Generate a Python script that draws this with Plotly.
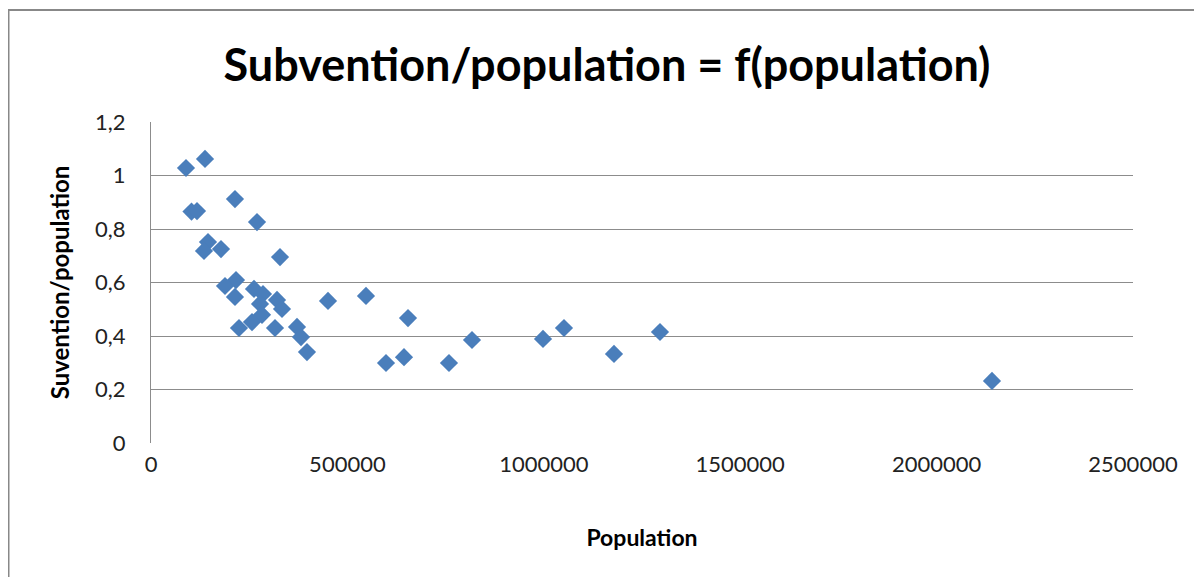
import plotly.graph_objects as go

population = [89100, 137500, 103100, 117100, 213800, 269900, 145100, 134900, 178200, 328400,
              216400, 188400, 213800, 262200, 285100, 277500, 320800, 333500, 282600, 257100,
              224000, 315700, 371700, 381900, 397100, 450600, 547300, 654300, 598300, 644100,
              758600, 817200, 998000, 1051400, 1178700, 1295800, 2141000]
subv_per_pop = [1.028, 1.062, 0.865, 0.867, 0.912, 0.826, 0.751, 0.718, 0.725, 0.695,
                0.609, 0.587, 0.546, 0.576, 0.557, 0.520, 0.535, 0.501, 0.479, 0.452,
                0.430, 0.430, 0.434, 0.396, 0.340, 0.531, 0.550, 0.467, 0.299, 0.321,
                0.299, 0.385, 0.389, 0.430, 0.333, 0.415, 0.232]

x_ticks = [0, 500000, 1000000, 1500000, 2000000, 2500000]
y_ticks = [0, 0.2, 0.4, 0.6, 0.8, 1.0, 1.2]

fig = go.Figure()
fig.add_trace(go.Scatter(
    x=population, y=subv_per_pop, mode="markers",
    marker=dict(symbol="diamond", size=14, color="#4A7EBB",
                line=dict(width=0)),
    showlegend=False,
))

# page body adds an 8px offset
OFF = 8
W, H = 1202, 577
L, T = 151 - OFF, 122 - OFF
R = W - (1133 - OFF)
B = H - (443 - OFF)
pw, ph = W - L - R, H - T - B

def px(x):
    return (x - OFF - L) / pw

def py(y):
    return (H - B - (y - OFF)) / ph

fig.update_layout(
    width=W, height=H,
    margin=dict(l=L, r=R, t=T, b=B),
    paper_bgcolor="white", plot_bgcolor="white",
    separators=", ",
    font=dict(family="Lato, Open Sans, sans-serif", color="#1a1a1a"),
    title=dict(text="<b>Subvention/population = f(population)</b>",
               x=px(607), xref="paper", xanchor="center",
               y=1 - (65 - OFF) / H, yref="container", yanchor="middle",
               font=dict(size=45, color="black", family="Lato, Open Sans, sans-serif")),
    xaxis=dict(range=[0, 2500000], tickvals=x_ticks, tickformat="d",
               showgrid=False, zeroline=False, showline=False,
               ticks="", tickfont=dict(size=22, color="#222"),
               ticklabelstandoff=6,
               title=dict(text="<b>Population</b>", font=dict(size=23, color="black"),
                          standoff=53)),
    yaxis=dict(range=[0, 1.2], tickvals=y_ticks,
               showgrid=True, gridcolor="#8c8c8c", gridwidth=1,
               zeroline=False, showline=True, linecolor="#8c8c8c", linewidth=1,
               ticks="", tickfont=dict(size=22, color="#222"),
               ticklabelstandoff=20,
               title=dict(text="<b>Suvention/population</b>", font=dict(size=24, color="black"),
                          standoff=18)),
    shapes=[dict(type="rect", xref="paper", yref="paper",
                 x0=px(OFF + 0.5), x1=px(1220), y0=py(600), y1=py(10),
                 line=dict(color="#888888", width=2), fillcolor="rgba(0,0,0,0)",
                 layer="below")],
)

fig.write_html("out.html")
